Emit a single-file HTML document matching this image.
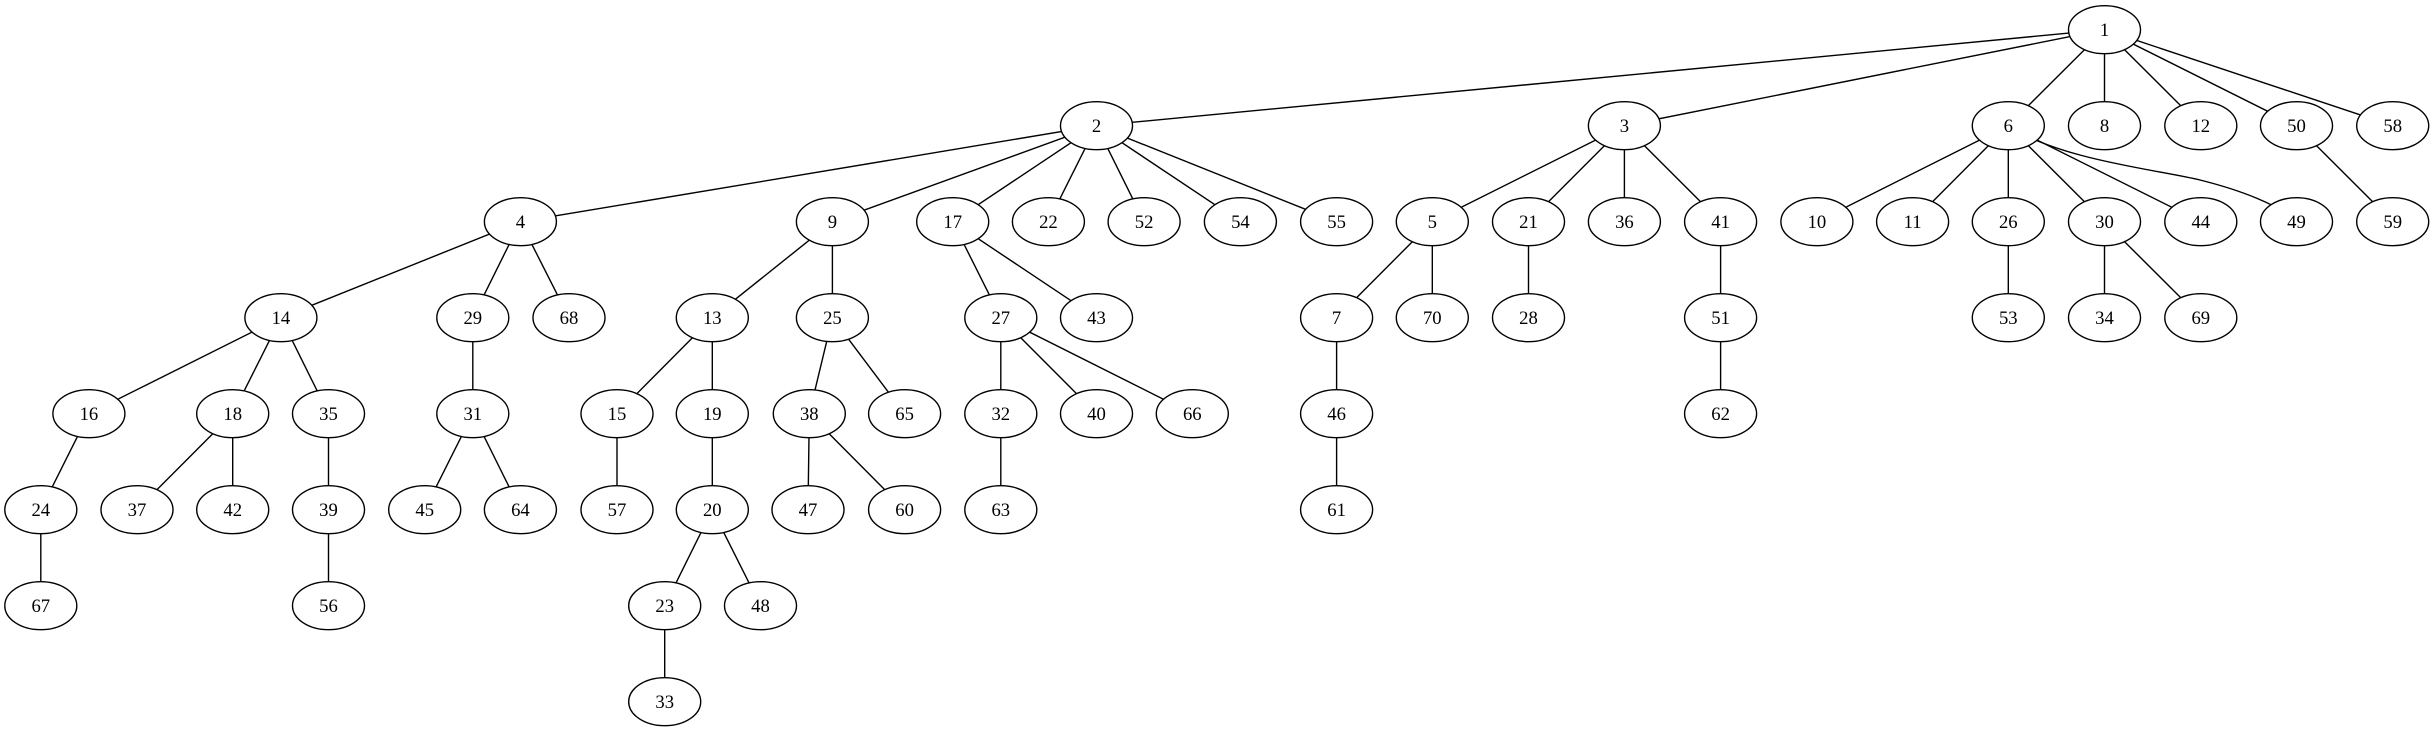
<!DOCTYPE html>
<html><head><meta charset="utf-8"><style>html,body{margin:0;padding:0;background:#fff}svg{display:block}</style></head>
<body>
<svg width="2435" height="731" viewBox="0 0 2435 731" xmlns="http://www.w3.org/2000/svg">
<g stroke="#000" stroke-width="1.4" fill="none">
<line x1="2104.5" y1="29.7" x2="1096.5" y2="125.7"/>
<line x1="2104.5" y1="29.7" x2="1624.4" y2="125.7"/>
<line x1="2104.5" y1="29.7" x2="2008.3" y2="125.7"/>
<line x1="2104.5" y1="29.7" x2="2104.5" y2="125.7"/>
<line x1="2104.5" y1="29.7" x2="2200.8" y2="125.7"/>
<line x1="2104.5" y1="29.7" x2="2296.5" y2="125.7"/>
<line x1="2104.5" y1="29.7" x2="2392.7" y2="125.7"/>
<line x1="1096.5" y1="125.7" x2="520.4" y2="221.7"/>
<line x1="1096.5" y1="125.7" x2="832.4" y2="221.7"/>
<line x1="1096.5" y1="125.7" x2="952.7" y2="221.7"/>
<line x1="1096.5" y1="125.7" x2="1048.4" y2="221.7"/>
<line x1="1096.5" y1="125.7" x2="1144.1" y2="221.7"/>
<line x1="1096.5" y1="125.7" x2="1240.4" y2="221.7"/>
<line x1="1096.5" y1="125.7" x2="1336.6" y2="221.7"/>
<line x1="1624.4" y1="125.7" x2="1432.3" y2="221.7"/>
<line x1="1624.4" y1="125.7" x2="1528.5" y2="221.7"/>
<line x1="1624.4" y1="125.7" x2="1624.4" y2="221.7"/>
<line x1="1624.4" y1="125.7" x2="1720.6" y2="221.7"/>
<line x1="2008.3" y1="125.7" x2="1816.9" y2="221.7"/>
<line x1="2008.3" y1="125.7" x2="1912.6" y2="221.7"/>
<line x1="2008.3" y1="125.7" x2="2008.3" y2="221.7"/>
<line x1="2008.3" y1="125.7" x2="2104.5" y2="221.7"/>
<line x1="2008.3" y1="125.7" x2="2200.8" y2="221.7"/>
<path d="M2008.3,125.7 C2060,160 2160,170 2200,180 C2240,190 2280,205 2296.5,221.7"/>
<line x1="2296.5" y1="125.7" x2="2392.7" y2="221.7"/>
<line x1="520.4" y1="221.7" x2="280.9" y2="317.7"/>
<line x1="520.4" y1="221.7" x2="472.8" y2="317.7"/>
<line x1="520.4" y1="221.7" x2="569" y2="317.7"/>
<line x1="832.4" y1="221.7" x2="712.3" y2="317.7"/>
<line x1="832.4" y1="221.7" x2="832.4" y2="317.7"/>
<line x1="952.7" y1="221.7" x2="1000.8" y2="317.7"/>
<line x1="952.7" y1="221.7" x2="1096.5" y2="317.7"/>
<line x1="1432.3" y1="221.7" x2="1336.6" y2="317.7"/>
<line x1="1432.3" y1="221.7" x2="1432.3" y2="317.7"/>
<line x1="1528.5" y1="221.7" x2="1528.5" y2="317.7"/>
<line x1="1720.6" y1="221.7" x2="1720.6" y2="317.7"/>
<line x1="2008.3" y1="221.7" x2="2008.3" y2="317.7"/>
<line x1="2104.5" y1="221.7" x2="2104.5" y2="317.7"/>
<line x1="2104.5" y1="221.7" x2="2200.8" y2="317.7"/>
<line x1="280.9" y1="317.7" x2="88.9" y2="413.7"/>
<line x1="280.9" y1="317.7" x2="232.7" y2="413.7"/>
<line x1="280.9" y1="317.7" x2="328.5" y2="413.7"/>
<line x1="472.8" y1="317.7" x2="472.8" y2="413.7"/>
<line x1="712.3" y1="317.7" x2="617" y2="413.7"/>
<line x1="712.3" y1="317.7" x2="712.3" y2="413.7"/>
<line x1="832.4" y1="317.7" x2="809.3" y2="413.7"/>
<line x1="832.4" y1="317.7" x2="904.6" y2="413.7"/>
<line x1="1000.8" y1="317.7" x2="1000.8" y2="413.7"/>
<line x1="1000.8" y1="317.7" x2="1096.5" y2="413.7"/>
<line x1="1000.8" y1="317.7" x2="1192.3" y2="413.7"/>
<line x1="1336.6" y1="317.7" x2="1336.6" y2="413.7"/>
<line x1="1720.6" y1="317.7" x2="1720.6" y2="413.7"/>
<line x1="88.9" y1="413.7" x2="40.8" y2="509.7"/>
<line x1="232.7" y1="413.7" x2="137" y2="509.7"/>
<line x1="232.7" y1="413.7" x2="232.7" y2="509.7"/>
<line x1="328.5" y1="413.7" x2="328.5" y2="509.7"/>
<line x1="472.8" y1="413.7" x2="424.7" y2="509.7"/>
<line x1="472.8" y1="413.7" x2="520.4" y2="509.7"/>
<line x1="617" y1="413.7" x2="617" y2="509.7"/>
<line x1="712.3" y1="413.7" x2="712.3" y2="509.7"/>
<line x1="809.3" y1="413.7" x2="808" y2="509.7"/>
<line x1="809.3" y1="413.7" x2="904.6" y2="509.7"/>
<line x1="1000.8" y1="413.7" x2="1000.8" y2="509.7"/>
<line x1="1336.6" y1="413.7" x2="1336.6" y2="509.7"/>
<line x1="40.8" y1="509.7" x2="40.8" y2="605.7"/>
<line x1="328.5" y1="509.7" x2="328.5" y2="605.7"/>
<line x1="712.3" y1="509.7" x2="664.7" y2="605.7"/>
<line x1="712.3" y1="509.7" x2="760.5" y2="605.7"/>
<line x1="664.7" y1="605.7" x2="664.7" y2="701.7"/>
</g>
<g stroke="#000" stroke-width="1.4" fill="#fff">
<ellipse cx="2104.5" cy="29.7" rx="36" ry="24"/>
<ellipse cx="1096.5" cy="125.7" rx="36" ry="24"/><ellipse cx="1624.4" cy="125.7" rx="36" ry="24"/><ellipse cx="2008.3" cy="125.7" rx="36" ry="24"/><ellipse cx="2104.5" cy="125.7" rx="36" ry="24"/><ellipse cx="2200.8" cy="125.7" rx="36" ry="24"/><ellipse cx="2296.5" cy="125.7" rx="36" ry="24"/><ellipse cx="2392.7" cy="125.7" rx="36" ry="24"/>
<ellipse cx="520.4" cy="221.7" rx="36" ry="24"/><ellipse cx="832.4" cy="221.7" rx="36" ry="24"/><ellipse cx="952.7" cy="221.7" rx="36" ry="24"/><ellipse cx="1048.4" cy="221.7" rx="36" ry="24"/><ellipse cx="1144.1" cy="221.7" rx="36" ry="24"/><ellipse cx="1240.4" cy="221.7" rx="36" ry="24"/><ellipse cx="1336.6" cy="221.7" rx="36" ry="24"/><ellipse cx="1432.3" cy="221.7" rx="36" ry="24"/><ellipse cx="1528.5" cy="221.7" rx="36" ry="24"/><ellipse cx="1624.4" cy="221.7" rx="36" ry="24"/><ellipse cx="1720.6" cy="221.7" rx="36" ry="24"/><ellipse cx="1816.9" cy="221.7" rx="36" ry="24"/><ellipse cx="1912.6" cy="221.7" rx="36" ry="24"/><ellipse cx="2008.3" cy="221.7" rx="36" ry="24"/><ellipse cx="2104.5" cy="221.7" rx="36" ry="24"/><ellipse cx="2200.8" cy="221.7" rx="36" ry="24"/><ellipse cx="2296.5" cy="221.7" rx="36" ry="24"/><ellipse cx="2392.7" cy="221.7" rx="36" ry="24"/>
<ellipse cx="280.9" cy="317.7" rx="36" ry="24"/><ellipse cx="472.8" cy="317.7" rx="36" ry="24"/><ellipse cx="569" cy="317.7" rx="36" ry="24"/><ellipse cx="712.3" cy="317.7" rx="36" ry="24"/><ellipse cx="832.4" cy="317.7" rx="36" ry="24"/><ellipse cx="1000.8" cy="317.7" rx="36" ry="24"/><ellipse cx="1096.5" cy="317.7" rx="36" ry="24"/><ellipse cx="1336.6" cy="317.7" rx="36" ry="24"/><ellipse cx="1432.3" cy="317.7" rx="36" ry="24"/><ellipse cx="1528.5" cy="317.7" rx="36" ry="24"/><ellipse cx="1720.6" cy="317.7" rx="36" ry="24"/><ellipse cx="2008.3" cy="317.7" rx="36" ry="24"/><ellipse cx="2104.5" cy="317.7" rx="36" ry="24"/><ellipse cx="2200.8" cy="317.7" rx="36" ry="24"/>
<ellipse cx="88.9" cy="413.7" rx="36" ry="24"/><ellipse cx="232.7" cy="413.7" rx="36" ry="24"/><ellipse cx="328.5" cy="413.7" rx="36" ry="24"/><ellipse cx="472.8" cy="413.7" rx="36" ry="24"/><ellipse cx="617" cy="413.7" rx="36" ry="24"/><ellipse cx="712.3" cy="413.7" rx="36" ry="24"/><ellipse cx="809.3" cy="413.7" rx="36" ry="24"/><ellipse cx="904.6" cy="413.7" rx="36" ry="24"/><ellipse cx="1000.8" cy="413.7" rx="36" ry="24"/><ellipse cx="1096.5" cy="413.7" rx="36" ry="24"/><ellipse cx="1192.3" cy="413.7" rx="36" ry="24"/><ellipse cx="1336.6" cy="413.7" rx="36" ry="24"/><ellipse cx="1720.6" cy="413.7" rx="36" ry="24"/>
<ellipse cx="40.8" cy="509.7" rx="36" ry="24"/><ellipse cx="137" cy="509.7" rx="36" ry="24"/><ellipse cx="232.7" cy="509.7" rx="36" ry="24"/><ellipse cx="328.5" cy="509.7" rx="36" ry="24"/><ellipse cx="424.7" cy="509.7" rx="36" ry="24"/><ellipse cx="520.4" cy="509.7" rx="36" ry="24"/><ellipse cx="617" cy="509.7" rx="36" ry="24"/><ellipse cx="712.3" cy="509.7" rx="36" ry="24"/><ellipse cx="808" cy="509.7" rx="36" ry="24"/><ellipse cx="904.6" cy="509.7" rx="36" ry="24"/><ellipse cx="1000.8" cy="509.7" rx="36" ry="24"/><ellipse cx="1336.6" cy="509.7" rx="36" ry="24"/>
<ellipse cx="40.8" cy="605.7" rx="36" ry="24"/><ellipse cx="328.5" cy="605.7" rx="36" ry="24"/><ellipse cx="664.7" cy="605.7" rx="36" ry="24"/><ellipse cx="760.5" cy="605.7" rx="36" ry="24"/>
<ellipse cx="664.7" cy="701.7" rx="36" ry="24"/>
</g>
<g font-family="Liberation Serif, serif" font-size="18.67" text-anchor="middle" fill="#000">
<text x="2104.5" y="36">1</text>
<text x="1096.5" y="132">2</text><text x="1624.4" y="132">3</text><text x="2008.3" y="132">6</text><text x="2104.5" y="132">8</text><text x="2200.8" y="132">12</text><text x="2296.5" y="132">50</text><text x="2392.7" y="132">58</text>
<text x="520.4" y="228">4</text><text x="832.4" y="228">9</text><text x="952.7" y="228">17</text><text x="1048.4" y="228">22</text><text x="1144.1" y="228">52</text><text x="1240.4" y="228">54</text><text x="1336.6" y="228">55</text><text x="1432.3" y="228">5</text><text x="1528.5" y="228">21</text><text x="1624.4" y="228">36</text><text x="1720.6" y="228">41</text><text x="1816.9" y="228">10</text><text x="1912.6" y="228">11</text><text x="2008.3" y="228">26</text><text x="2104.5" y="228">30</text><text x="2200.8" y="228">44</text><text x="2296.5" y="228">49</text><text x="2392.7" y="228">59</text>
<text x="280.9" y="324">14</text><text x="472.8" y="324">29</text><text x="569" y="324">68</text><text x="712.3" y="324">13</text><text x="832.4" y="324">25</text><text x="1000.8" y="324">27</text><text x="1096.5" y="324">43</text><text x="1336.6" y="324">7</text><text x="1432.3" y="324">70</text><text x="1528.5" y="324">28</text><text x="1720.6" y="324">51</text><text x="2008.3" y="324">53</text><text x="2104.5" y="324">34</text><text x="2200.8" y="324">69</text>
<text x="88.9" y="420">16</text><text x="232.7" y="420">18</text><text x="328.5" y="420">35</text><text x="472.8" y="420">31</text><text x="617" y="420">15</text><text x="712.3" y="420">19</text><text x="809.3" y="420">38</text><text x="904.6" y="420">65</text><text x="1000.8" y="420">32</text><text x="1096.5" y="420">40</text><text x="1192.3" y="420">66</text><text x="1336.6" y="420">46</text><text x="1720.6" y="420">62</text>
<text x="40.8" y="516">24</text><text x="137" y="516">37</text><text x="232.7" y="516">42</text><text x="328.5" y="516">39</text><text x="424.7" y="516">45</text><text x="520.4" y="516">64</text><text x="617" y="516">57</text><text x="712.3" y="516">20</text><text x="808" y="516">47</text><text x="904.6" y="516">60</text><text x="1000.8" y="516">63</text><text x="1336.6" y="516">61</text>
<text x="40.8" y="612">67</text><text x="328.5" y="612">56</text><text x="664.7" y="612">23</text><text x="760.5" y="612">48</text>
<text x="664.7" y="708">33</text>
</g>
</svg>
</body></html>
